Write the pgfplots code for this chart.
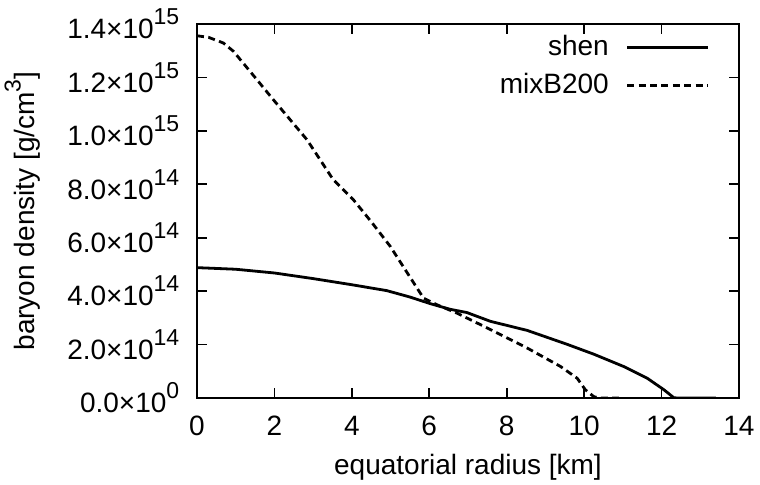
\documentclass[border=0pt]{standalone}
\usepackage{fontspec}
\setmainfont{Liberation Sans}
\usepackage{pgfplots}
\pgfplotsset{compat=1.18}
\newcommand\sups[1]{\raisebox{0.5em}{\fontsize{11.5}{11.5}\selectfont #1}}
\begin{document}
\fontsize{14}{16}\selectfont
\begin{tikzpicture}
\begin{axis}[
  scale only axis,
  width=271pt, height=187pt,
  xmin=0, xmax=14, ymin=0, ymax=1.4e15,
  xtick={0,2,4,6,8,10,12,14},
  ytick={0,2e14,4e14,6e14,8e14,1e15,1.2e15,1.4e15},
  yticklabels={0.0×10\sups{0},2.0×10\sups{14},4.0×10\sups{14},6.0×10\sups{14},8.0×10\sups{14},1.0×10\sups{15},1.2×10\sups{15},1.4×10\sups{15}},
  /pgf/number format/assume math mode=true,
  xticklabel={\pgfmathprintnumber[assume math mode=true]{\tick}},
  xticklabel style={yshift=-4pt},
  yticklabel style={xshift=-4pt},
  scaled y ticks=false,
  tick align=inside,
  tick pos=both,
  major tick length=5pt,
  axis line style={line width=1pt},
  every tick/.style={black, line width=0.8pt},
  xlabel={equatorial radius [km]},
  ylabel={baryon density [g/cm\sups{3}]},
  xlabel style={at={(axis description cs:0.5,-0.1845)}, anchor=center},
  ylabel style={at={(axis description cs:-0.322,0.5)}, anchor=center},
  legend cell align=right,
  legend plot pos=right,
  legend style={draw=none, fill=none, at={(axis description cs:0.9576,0.886)}, anchor=east, row sep=2.5pt},
  legend image code/.code={\path (0pt,0pt); \draw[#1] (6.5pt,0pt) -- (47pt,0pt);},
]
\addplot[black, line width=1.4pt] coordinates {
(0,4.88e14) (1,4.82e14) (2,4.68e14) (3,4.47e14) (4,4.24e14) (4.9,4.02e14)
(5.5,3.78e14) (6.03,3.53e14) (6.54,3.32e14) (6.97,3.20e14) (7.58,2.87e14)
(8.53,2.53e14) (9.56,2.01e14) (10.25,1.64e14) (11.02,1.18e14) (11.63,0.74e14)
(12.06,0.31e14) (12.32,0.006e14) (12.5,0) (13.4,0)
};
\addlegendentry{shen}
\addplot[black, line width=1.4pt, dash pattern=on 3.5pt off 2.2pt] coordinates {
(0,1.356e15) (0.3,1.350e15) (0.68,1.329e15) (0.94,1.298e15) (1.5,1.200e15)
(1.97,1.117e15) (2.84,0.967e15) (3.52,0.817e15) (4.04,0.742e15) (4.5,0.66e15)
(4.99,0.568e15) (5.85,0.374e15) (6.2,0.349e15) (6.71,0.318e15) (7.5,0.262e15)
(8.53,0.187e15) (9.39,0.118e15) (9.82,0.074e15) (10.03,0.031e15) (10.25,0.005e15)
(10.4,0) (10.9,0)
};
\addlegendentry{mixB200}
\end{axis}
\pgfresetboundingbox
\path (current axis.south west) ++(-98.5pt,-43pt) rectangle ++(380pt,242pt);
\end{tikzpicture}
\end{document}
